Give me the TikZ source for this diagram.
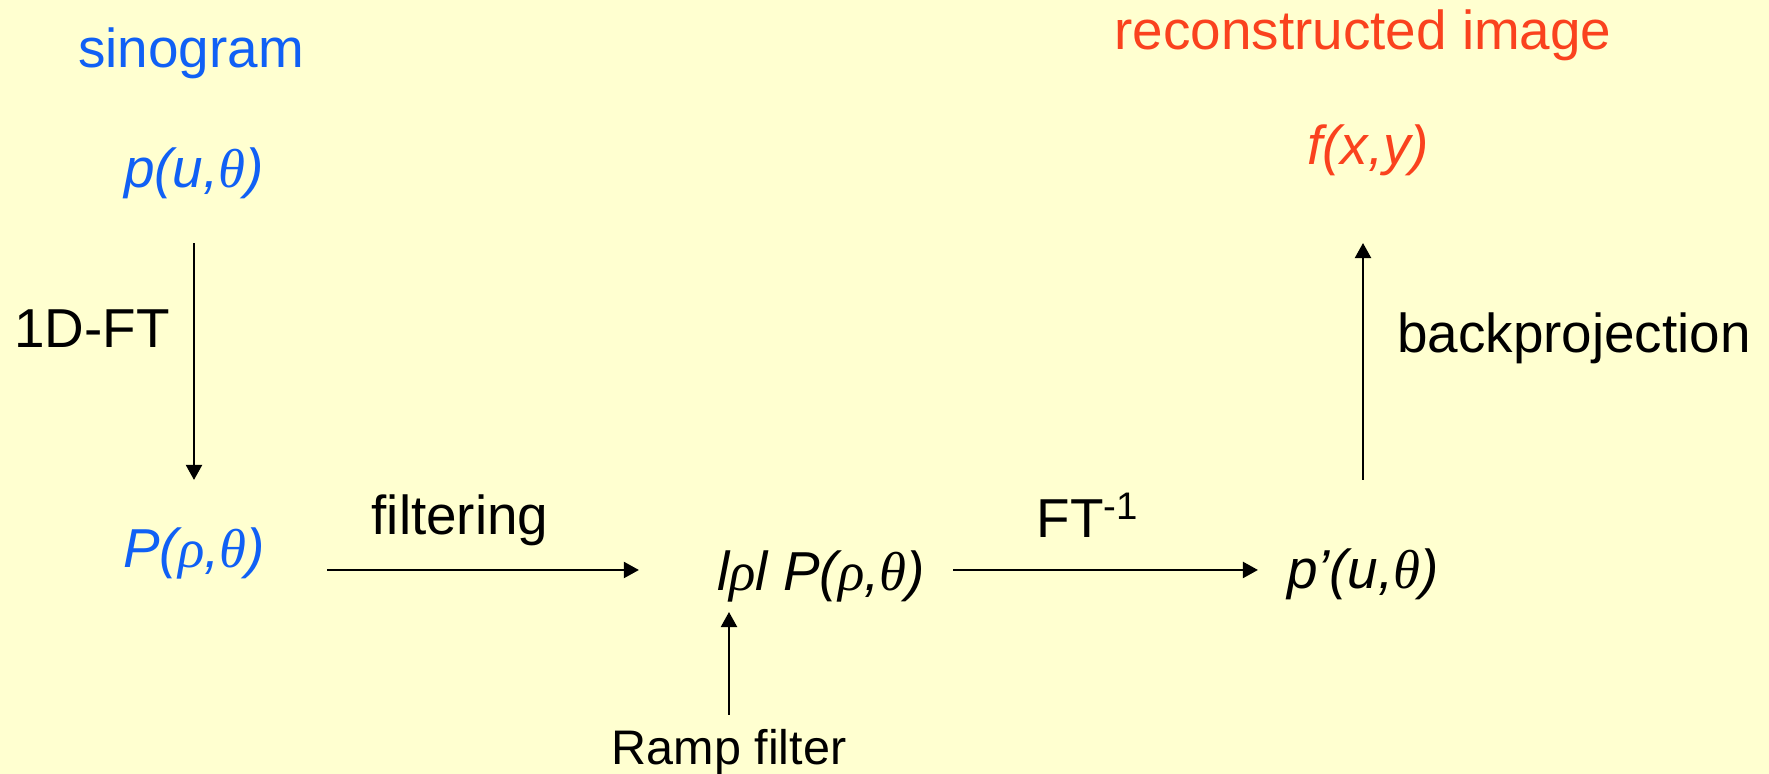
\documentclass[tikz,border=0pt]{standalone}
\usepackage{fontspec}
\setmainfont{Liberation Sans}
\newfontfamily\grkfont{Liberation Serif}
\usetikzlibrary{arrows.meta}

\definecolor{paper}{RGB}{255,255,208}
\definecolor{sinoblue}{RGB}{16,96,245}
\definecolor{reconred}{RGB}{250,66,30}
\newcommand{\gk}[1]{{\grkfont\itshape #1}}

\begin{document}
\begin{tikzpicture}[x=0.01cm, y=-0.01cm,
  lbl/.style={inner sep=0pt, anchor=base, font=\fontsize{15.6pt}{18pt}\selectfont},
  arr/.style={line width=0.6pt, -{Triangle[length=0.15cm, width=0.16cm]}}]

\useasboundingbox (0,0) rectangle (1769,774);
\fill[paper] (0,0) rectangle (1769,774);

% Sinograma
\node[lbl, sinoblue] (sino) at (191,68) {sinogram};
\node[lbl, sinoblue] (pu) at (194,188) {\itshape p(u,\gk{θ})};
\node[lbl, sinoblue] (Pr) at (194,568) {\itshape P(\gk{ρ},\gk{θ})};
\node[lbl] (ftlab) at (92,348) {1D-FT};

% Filtrado
\node[lbl] (mid) at (821,591) {\itshape l\gk{ρ}l P(\gk{ρ},\gk{θ})};
\node[lbl] (filt) at (460,535) {filtering};
\node[lbl, font=\fontsize{13.8pt}{16pt}\selectfont] (ramp) at (729,765) {Ramp filter};

% Imagen reconstruida
\node[lbl] (pp) at (1363,589) {\itshape p’(u,\gk{θ})};
\node[lbl] (invlab) at (1088,538) {FT\textsuperscript{-1}};
\node[lbl, reconred] (fxy) at (1368,165) {\itshape f(x,y)};
\node[lbl, reconred] (recon) at (1363,50) {reconstructed image};
\node[lbl] (back) at (1574,353) {backprojection};

% Flechas
\coordinate (fa) at ([yshift=-0.02cm]Pr.base);
\coordinate (fb) at ([yshift=0.21cm]mid.base);
\draw[arr, shorten <=0.55cm, shorten >=0.88cm] (pu.base) -- (Pr.base);
\draw[arr, shorten <=1.33cm, shorten >=1.82cm] (fa) -- (fa -| mid.base);
\draw[arr, shorten <=1.32cm, shorten >=1.05cm] (fb) -- (fb -| pp.base);
\draw[arr, shorten <=0.50cm, shorten >=0.21cm] (ramp.base) -- (ramp.base |- mid.base);
\draw[arr, shorten <=1.09cm, shorten >=0.78cm] (pp.base) -- (pp.base |- fxy.base);

\end{tikzpicture}
\end{document}
